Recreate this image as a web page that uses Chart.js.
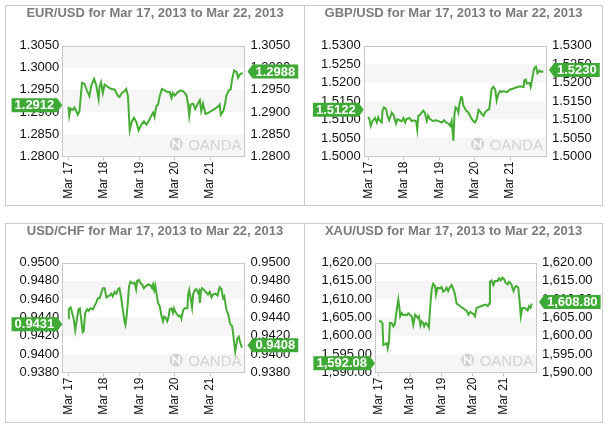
<!DOCTYPE html>
<html>
<head>
<meta charset="utf-8">
<script src="https://cdn.jsdelivr.net/npm/chart.js@4.4.0/dist/chart.umd.min.js"></script>
<style>
  body { margin: 0; background: #fff; }
  .panel { position: absolute; box-sizing: border-box; border: 1px solid #ccc; }
  .panel canvas { display: block; }
</style>
</head>
<body>
<div class="panel" style="left:5px;top:5px;width:300px;height:201px"><canvas id="eurChart" width="298" height="199"></canvas></div>
<div class="panel" style="left:304px;top:5px;width:299px;height:201px"><canvas id="gbpChart" width="297" height="199"></canvas></div>
<div class="panel" style="left:5px;top:223px;width:300px;height:200px"><canvas id="chfChart" width="298" height="198"></canvas></div>
<div class="panel" style="left:304px;top:223px;width:299px;height:200px"><canvas id="xauChart" width="297" height="198"></canvas></div>
<script>
'use strict';

// x values are days after Mar 17, 2013 00:00
const dayTicks = [0, 1, 2, 3, 4];
const dayLabels = ['Mar 17', 'Mar 18', 'Mar 19', 'Mar 20', 'Mar 21'];

// ***** EUR/USD *****
const eurDays = [0, 0.02, 0.06, 0.12, 0.17, 0.22, 0.26, 0.31, 0.38, 0.45,
  0.53, 0.59, 0.64, 0.72, 0.78, 0.85, 0.88, 0.92, 0.97, 1.02,
  1.09, 1.21, 1.30, 1.40, 1.44, 1.51, 1.58, 1.63, 1.68, 1.73,
  1.79, 1.85, 1.92, 1.98, 2.06, 2.13, 2.20, 2.26, 2.34, 2.39,
  2.43, 2.48, 2.53, 2.58, 2.64, 2.72, 2.79, 2.86, 2.91, 2.95,
  3.00, 3.09, 3.17, 3.24, 3.33, 3.38, 3.41, 3.45, 3.52, 3.58,
  3.64, 3.71, 3.75, 3.80, 3.87, 3.94, 4.04, 4.13, 4.23, 4.27,
  4.30, 4.37, 4.42, 4.46, 4.53, 4.58, 4.62, 4.68, 4.75, 4.79,
  4.84, 4.92];
const eurRates = [1.2912, 1.2892, 1.2908, 1.2905, 1.2910, 1.2902, 1.2894, 1.2902, 1.2966, 1.2964,
  1.2947, 1.2936, 1.2958, 1.2975, 1.2962, 1.2930, 1.2958, 1.2967, 1.2943, 1.2962,
  1.2958, 1.2952, 1.2951, 1.2936, 1.2934, 1.2943, 1.2947, 1.2952, 1.2936, 1.2859,
  1.2879, 1.2887, 1.2877, 1.2859, 1.2872, 1.2879, 1.2872, 1.2879, 1.2892, 1.2899,
  1.2889, 1.2913, 1.2917, 1.2937, 1.2952, 1.2949, 1.2945, 1.2945, 1.2932, 1.2943,
  1.2937, 1.2945, 1.2949, 1.2947, 1.2939, 1.2917, 1.2892, 1.2917, 1.2919, 1.2907,
  1.2917, 1.2927, 1.2902, 1.2919, 1.2896, 1.2898, 1.2903, 1.2907, 1.2913, 1.2917,
  1.2894, 1.2902, 1.2917, 1.2937, 1.2949, 1.2951, 1.2973, 1.2994, 1.2990, 1.2977,
  1.2985, 1.2988];
const eurTicks = [1.28, 1.285, 1.29, 1.295, 1.3, 1.305];
const eurOpen = 1.2912;
const eurClose = 1.2988;

// ***** GBP/USD *****
const gbpDays = [0, 0.03, 0.07, 0.12, 0.19, 0.24, 0.28, 0.33, 0.38, 0.40,
  0.44, 0.50, 0.54, 0.59, 0.66, 0.71, 0.78, 0.82, 0.88, 0.94,
  0.99, 1.04, 1.08, 1.16, 1.22, 1.29, 1.35, 1.38, 1.41, 1.46,
  1.51, 1.55, 1.60, 1.65, 1.69, 1.74, 1.82, 1.91, 2.00, 2.07,
  2.14, 2.19, 2.26, 2.31, 2.35, 2.40, 2.43, 2.46, 2.51, 2.54,
  2.57, 2.62, 2.64, 2.68, 2.76, 2.82, 2.90, 2.96, 3.01, 3.06,
  3.11, 3.15, 3.20, 3.25, 3.29, 3.34, 3.41, 3.44, 3.48, 3.53,
  3.58, 3.62, 3.67, 3.72, 3.76, 3.81, 3.91, 4.00, 4.08, 4.14,
  4.21, 4.28, 4.38, 4.40, 4.44, 4.47, 4.55, 4.58, 4.61, 4.64,
  4.68, 4.73, 4.77, 4.83, 4.87, 4.94];
const gbpRates = [1.5107, 1.5101, 1.5083, 1.5096, 1.5104, 1.5092, 1.5106, 1.5096, 1.5092, 1.5124,
  1.5133, 1.5128, 1.5110, 1.5098, 1.5119, 1.5113, 1.5089, 1.5101, 1.5098, 1.5095,
  1.5104, 1.5092, 1.5101, 1.5104, 1.5096, 1.5098, 1.5095, 1.5073, 1.5110, 1.5113,
  1.5119, 1.5124, 1.5117, 1.5096, 1.5110, 1.5101, 1.5096, 1.5098, 1.5095, 1.5092,
  1.5098, 1.5092, 1.5089, 1.5083, 1.5096, 1.5043, 1.5115, 1.5133, 1.5128, 1.5119,
  1.5142, 1.5161, 1.5162, 1.5138, 1.5124, 1.5119, 1.5104, 1.5096, 1.5092, 1.5101,
  1.5126, 1.5122, 1.5115, 1.5110, 1.5119, 1.5124, 1.5128, 1.5151, 1.5183, 1.5188,
  1.5181, 1.5151, 1.5170, 1.5177, 1.5174, 1.5177, 1.5174, 1.5181, 1.5183, 1.5186,
  1.5188, 1.5190, 1.5188, 1.5206, 1.5208, 1.5197, 1.5199, 1.5188, 1.5202, 1.5220,
  1.5239, 1.5243, 1.5225, 1.5232, 1.5229, 1.5230];
const gbpTicks = [1.5, 1.505, 1.51, 1.515, 1.52, 1.525, 1.53];
const gbpOpen = 1.5122;
const gbpClose = 1.5230;

// ***** USD/CHF *****
const chfDays = [0, 0.01, 0.06, 0.09, 0.15, 0.19, 0.23, 0.28, 0.32, 0.36,
  0.40, 0.43, 0.47, 0.53, 0.57, 0.62, 0.69, 0.74, 0.78, 0.83,
  0.88, 0.92, 0.97, 1.02, 1.07, 1.11, 1.16, 1.21, 1.25, 1.30,
  1.35, 1.40, 1.44, 1.49, 1.54, 1.58, 1.61, 1.64, 1.68, 1.71,
  1.75, 1.82, 1.87, 1.91, 1.94, 1.99, 2.04, 2.08, 2.13, 2.18,
  2.25, 2.32, 2.36, 2.39, 2.42, 2.45, 2.49, 2.53, 2.58, 2.62,
  2.67, 2.70, 2.74, 2.79, 2.83, 2.86, 2.91, 2.95, 2.98, 3.02,
  3.06, 3.11, 3.17, 3.19, 3.24, 3.28, 3.33, 3.36, 3.38, 3.41,
  3.45, 3.49, 3.52, 3.57, 3.61, 3.66, 3.69, 3.71, 3.74, 3.77,
  3.83, 3.90, 3.94, 3.99, 4.04, 4.08, 4.15, 4.21, 4.27, 4.32,
  4.37, 4.40, 4.43, 4.47, 4.51, 4.56, 4.58, 4.62, 4.65, 4.68,
  4.71, 4.74, 4.77, 4.81, 4.85, 4.89, 4.92];
const chfRates = [0.9439, 0.9449, 0.9451, 0.9447, 0.9438, 0.9426, 0.9436, 0.9449, 0.9450, 0.9438,
  0.9424, 0.9425, 0.9445, 0.9449, 0.9447, 0.9450, 0.9449, 0.9453, 0.9456, 0.9461,
  0.9461, 0.9466, 0.9472, 0.9472, 0.9462, 0.9463, 0.9464, 0.9466, 0.9463, 0.9468,
  0.9466, 0.9471, 0.9472, 0.9461, 0.9447, 0.9436, 0.9432, 0.9441, 0.9458, 0.9474,
  0.9479, 0.9477, 0.9478, 0.9471, 0.9480, 0.9481, 0.9477, 0.9476, 0.9472, 0.9474,
  0.9476, 0.9475, 0.9472, 0.9476, 0.9470, 0.9475, 0.9465, 0.9456, 0.9452, 0.9443,
  0.9436, 0.9441, 0.9440, 0.9436, 0.9441, 0.9449, 0.9450, 0.9445, 0.9450, 0.9446,
  0.9444, 0.9441, 0.9442, 0.9439, 0.9448, 0.9450, 0.9450, 0.9450, 0.9465, 0.9470,
  0.9461, 0.9451, 0.9465, 0.9470, 0.9471, 0.9467, 0.9469, 0.9456, 0.9469, 0.9472,
  0.9470, 0.9467, 0.9465, 0.9468, 0.9462, 0.9465, 0.9466, 0.9464, 0.9473, 0.9471,
  0.9461, 0.9463, 0.9456, 0.9447, 0.9444, 0.9434, 0.9432, 0.9431, 0.9423, 0.9412,
  0.9403, 0.9410, 0.9417, 0.9419, 0.9413, 0.9408, 0.9408];
const chfTicks = [0.938, 0.94, 0.942, 0.944, 0.946, 0.948, 0.95];
const chfOpen = 0.9431;
const chfClose = 0.9408;

// ***** XAU/USD *****
const xauDays = [0, 0.06, 0.11, 0.14, 0.19, 0.25, 0.28, 0.32, 0.35, 0.41,
  0.46, 0.51, 0.57, 0.62, 0.65, 0.68, 0.73, 0.78, 0.83, 0.89,
  0.94, 0.99, 1.05, 1.10, 1.16, 1.21, 1.24, 1.28, 1.33, 1.37,
  1.42, 1.45, 1.50, 1.56, 1.60, 1.65, 1.69, 1.74, 1.80, 1.83,
  1.88, 1.96, 2.01, 2.06, 2.12, 2.17, 2.22, 2.28, 2.33, 2.39,
  2.44, 2.49, 2.55, 2.60, 2.65, 2.71, 2.76, 2.81, 2.87, 2.92,
  2.97, 3.03, 3.08, 3.13, 3.19, 3.27, 3.35, 3.42, 3.49, 3.53,
  3.56, 3.61, 3.67, 3.72, 3.81, 3.85, 3.91, 3.96, 4.02, 4.06,
  4.13, 4.17, 4.24, 4.28, 4.32, 4.36, 4.41, 4.47, 4.52, 4.55,
  4.60, 4.68, 4.74, 4.77, 4.81, 4.86, 4.90];
const xauRates = [1603.95, 1603.95, 1603.49, 1597.52, 1597.71, 1597.98, 1596.61, 1598.26, 1603.49, 1603.49,
  1602.57, 1603.21, 1607.16, 1609.91, 1608.07, 1605.32, 1606.24, 1605.60, 1605.78, 1605.60,
  1606.15, 1605.78, 1605.32, 1603.03, 1605.78, 1605.32, 1604.86, 1605.32, 1602.84, 1603.95,
  1603.49, 1602.57, 1603.49, 1603.03, 1602.29, 1608.53, 1612.66, 1614.22, 1613.58, 1611.28,
  1613.12, 1612.94, 1613.30, 1612.02, 1612.39, 1613.12, 1612.20, 1613.30, 1613.85, 1612.66,
  1611.28, 1608.72, 1608.53, 1608.07, 1607.80, 1607.43, 1607.16, 1606.88, 1605.78, 1606.51,
  1606.24, 1605.96, 1605.32, 1607.61, 1607.80, 1608.07, 1608.35, 1608.53, 1608.07, 1608.72,
  1614.77, 1615.14, 1613.85, 1614.95, 1614.95, 1615.69, 1615.14, 1615.87, 1615.41, 1614.50,
  1614.04, 1614.77, 1614.22, 1613.12, 1612.20, 1613.30, 1613.58, 1613.12, 1608.53, 1605.32,
  1607.61, 1607.61, 1607.16, 1606.88, 1608.07, 1607.61, 1608.80];
const xauTicks = [1590, 1595, 1600, 1605, 1610, 1615, 1620];
const xauOpen = 1592.08;
const xauClose = 1608.80;

const LINE_GREEN = '#46ad34';
const TAG_GREEN = '#3ea935';
const FONT = '"Liberation Sans", Arial, Helvetica, sans-serif';

Chart.defaults.font.family = FONT;

function fourPlaces(v) {
  return v.toFixed(4);
}

function goldPrice(v) {
  return v.toLocaleString('en-US', { minimumFractionDigits: 2, maximumFractionDigits: 2 });
}

// green price tag with an arrow, tip at (tipX, yMid)
function drawTag(ctx, text, tipX, yMid, side) {
  ctx.font = 'bold 13px ' + FONT;
  const w = ctx.measureText(text).width + 6;
  const h = 14;
  const aw = 5;
  const top = yMid - h / 2;
  ctx.fillStyle = TAG_GREEN;
  ctx.beginPath();
  ctx.moveTo(tipX, yMid);
  if (side === 'left') {
    ctx.lineTo(tipX - aw, top);
    ctx.lineTo(tipX - aw - w, top);
    ctx.lineTo(tipX - aw - w, top + h);
    ctx.lineTo(tipX - aw, top + h);
  } else {
    ctx.lineTo(tipX + aw, top);
    ctx.lineTo(tipX + aw + w, top);
    ctx.lineTo(tipX + aw + w, top + h);
    ctx.lineTo(tipX + aw, top + h);
  }
  ctx.closePath();
  ctx.fill();
  ctx.fillStyle = '#fff';
  ctx.textAlign = 'center';
  ctx.textBaseline = 'middle';
  const cx = side === 'left' ? tipX - aw - w / 2 : tipX + aw + w / 2;
  ctx.fillText(text, cx, yMid + 0.5);
}

function panelPlugin(cfg) {
  return {
    id: 'panel',
    beforeDatasetsDraw(chart) {
      const { ctx, chartArea: a } = chart;
      const y = chart.scales.y;
      const t = y.ticks;
      ctx.save();
      // alternating bands, starting from the bottom
      ctx.fillStyle = '#f6f6f6';
      for (let i = 0; i < t.length - 1; i += 2) {
        const y0 = y.getPixelForValue(t[i].value);
        const y1 = y.getPixelForValue(t[i + 1].value);
        ctx.fillRect(a.left, y1, a.right - a.left, y0 - y1);
      }
      // watermark
      ctx.font = '15px ' + FONT;
      ctx.fillStyle = '#d3d3d3';
      ctx.textAlign = 'right';
      ctx.textBaseline = 'alphabetic';
      const tx = a.right - 4;
      const ty = a.bottom - 7;
      ctx.fillText('OANDA', tx, ty);
      const cx = tx - ctx.measureText('OANDA').width - 12;
      const cy = ty - 5.5;
      ctx.beginPath();
      ctx.arc(cx, cy, 6.5, 0, Math.PI * 2);
      ctx.fill();
      ctx.strokeStyle = '#fff';
      ctx.lineWidth = 1.6;
      ctx.beginPath();
      ctx.moveTo(cx - 3, cy + 4);
      ctx.lineTo(cx - 3, cy - 3);
      ctx.lineTo(cx + 3, cy + 3);
      ctx.lineTo(cx + 3, cy - 4);
      ctx.stroke();
      // plot frame
      ctx.strokeStyle = '#c8c8c8';
      ctx.lineWidth = 1;
      ctx.strokeRect(Math.round(a.left) + 0.5, Math.round(a.top) + 0.5,
        Math.round(a.right - a.left) - 1, Math.round(a.bottom - a.top) - 1);
      ctx.restore();
    },
    afterDraw(chart) {
      const { ctx, chartArea: a } = chart;
      const y = chart.scales.y;
      ctx.save();
      drawTag(ctx, cfg.format(cfg.open), a.left, y.getPixelForValue(cfg.open) - 1.5, 'left');
      drawTag(ctx, cfg.format(cfg.close), a.right + 2, y.getPixelForValue(cfg.close) - 1.5, 'right');
      ctx.restore();
    }
  };
}

function priceAxis(cfg, position, width, padding) {
  return {
    position: position,
    min: cfg.ticks[0],
    max: cfg.ticks[cfg.ticks.length - 1],
    afterBuildTicks: (axis) => { axis.ticks = cfg.ticks.map(v => ({ value: v })); },
    afterFit: (axis) => { axis.width = width; },
    grid: { display: false, drawTicks: false },
    border: { display: false },
    ticks: {
      autoSkip: false,
      color: '#111',
      font: { size: 13 },
      padding: padding,
      callback: (v) => cfg.format(v)
    }
  };
}

function buildChart(canvasId, cfg) {
  let points = [];
  for (let i = 0; i < Math.min(cfg.days.length, cfg.rates.length); i++) {
    points.push({ x: cfg.days[i], y: cfg.rates[i] });
  }

  return new Chart(document.getElementById(canvasId), {
    type: 'line',
    data: {
      datasets: [{
        data: points,
        borderColor: LINE_GREEN,
        borderWidth: 2,
        pointRadius: 0,
        tension: 0,
        yAxisID: 'y'
      }]
    },
    options: {
      responsive: false,
      animation: false,
      layout: { padding: 0 },
      plugins: {
        legend: { display: false },
        tooltip: { enabled: false },
        title: {
          display: true,
          text: cfg.title,
          color: '#7b7b7b',
          font: { size: 13, weight: 'bold' },
          padding: { top: 0, bottom: cfg.titleH - 15.6 }
        }
      },
      scales: {
        x: {
          type: 'linear',
          min: cfg.xMin,
          max: cfg.xMax,
          afterBuildTicks: (axis) => { axis.ticks = dayTicks.map(v => ({ value: v })); },
          afterFit: (axis) => { axis.height = cfg.axisH; },
          grid: { drawOnChartArea: false, tickLength: 4, color: '#c8c8c8' },
          border: { display: false },
          ticks: {
            autoSkip: false,
            minRotation: 90,
            maxRotation: 90,
            padding: 1,
            color: '#111',
            font: { size: 12 },
            callback: (v) => dayLabels[dayTicks.indexOf(v)]
          }
        },
        y: priceAxis(cfg, 'left', cfg.leftW, 3),
        y1: priceAxis(cfg, 'right', cfg.rightW, 5)
      }
    },
    plugins: [panelPlugin(cfg)]
  });
}

buildChart('eurChart', {
  title: 'EUR/USD for Mar 17, 2013 to Mar 22, 2013',
  days: eurDays, rates: eurRates, ticks: eurTicks,
  open: eurOpen, close: eurClose, format: fourPlaces,
  xMin: -0.175, xMax: 5.0,
  leftW: 56.3, rightW: 58.5, titleH: 39.5, axisH: 48.5
});

buildChart('gbpChart', {
  title: 'GBP/USD for Mar 17, 2013 to Mar 22, 2013',
  days: gbpDays, rates: gbpRates, ticks: gbpTicks,
  open: gbpOpen, close: gbpClose, format: fourPlaces,
  xMin: -0.13, xMax: 5.04,
  leftW: 58.7, rightW: 55, titleH: 39.5, axisH: 48.5
});

buildChart('chfChart', {
  title: 'USD/CHF for Mar 17, 2013 to Mar 22, 2013',
  days: chfDays, rates: chfRates, ticks: chfTicks,
  open: chfOpen, close: chfClose, format: fourPlaces,
  xMin: -0.175, xMax: 5.0,
  leftW: 56.3, rightW: 58.5, titleH: 38.5, axisH: 49.5
});

buildChart('xauChart', {
  title: 'XAU/USD for Mar 17, 2013 to Mar 22, 2013',
  days: xauDays, rates: xauRates, ticks: xauTicks,
  open: xauOpen, close: xauClose, format: goldPrice,
  xMin: -0.128, xMax: 5.07,
  leftW: 70, rightW: 65, titleH: 38.5, axisH: 49.5
});
</script>
</body>
</html>
